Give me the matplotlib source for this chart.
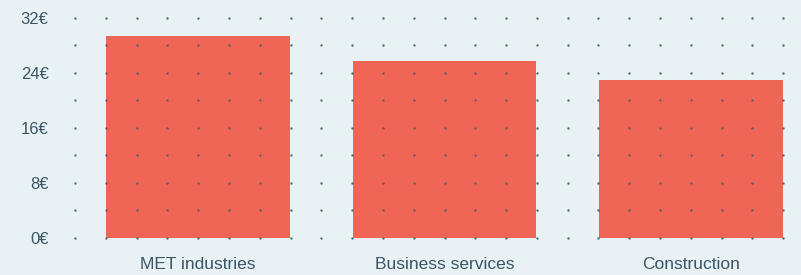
import matplotlib.pyplot as plt
import numpy as np

# data
categories = ['MET industries', 'Business services', 'Construction']
values = [29.3, 25.7, 22.9]
yticks = [0, 8, 16, 24, 32]

bg = '#e8f2f4'
plt.rcParams['font.family'] = ['Liberation Sans', 'DejaVu Sans']

fig = plt.figure(figsize=(8.01, 2.75), dpi=100, facecolor=bg)
ax = fig.add_axes([75/801, 37/275, 726/801, 220.5/275])
ax.set_facecolor(bg)

x = np.arange(len(categories))
ax.bar(x, values, width=0.745, color='#f06656', zorder=2)

# dotted grid, drawn on top of the bars
gx, gy = np.meshgrid(-0.5 + np.arange(24) / 8, np.arange(0, 33, 4))
ax.scatter(gx.ravel(), gy.ravel(), s=3, color='#4a5f6b', alpha=0.9,
           linewidths=0, zorder=3, clip_on=False)

ax.set_xlim(-0.5, 2.447)
ax.set_ylim(0, 32)
ax.set_xticks(x)
ax.set_xticklabels(categories, fontsize=12.5)
ax.set_yticks(yticks)
ax.set_yticklabels([f'{v}€' for v in yticks], fontsize=12)
ax.tick_params(length=0, colors='#3b5566')
ax.tick_params(axis='y', pad=19)
ax.tick_params(axis='x', pad=14)
for s in ax.spines.values():
    s.set_visible(False)

fig.savefig('out.png', dpi=100, facecolor=bg)
